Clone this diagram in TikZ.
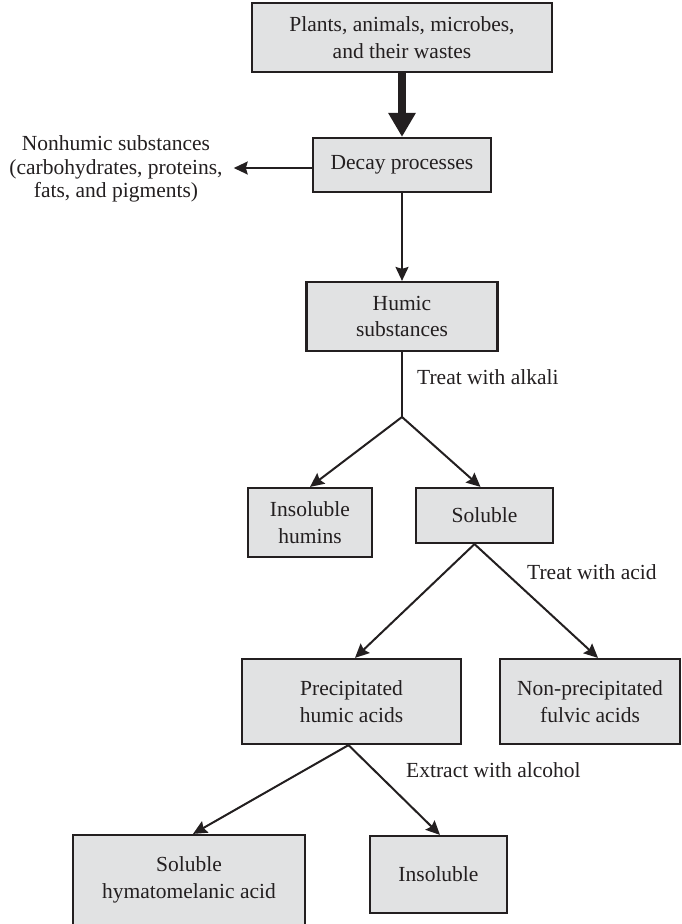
\documentclass[tikz,border=0pt]{standalone}
\usepackage{fontspec}
\setmainfont{Liberation Serif}
\usetikzlibrary{arrows.meta,calc}
\definecolor{ink}{HTML}{231F20}
\definecolor{boxfill}{HTML}{E1E2E3}
\tikzset{
  stage/.style={draw=ink, line width=2.2pt, fill=boxfill, text=ink, align=center,
    inner sep=0pt, font=\fontsize{21.5}{26.5}\selectfont},
  flow/.style={draw=ink, line width=2pt, -{Stealth[length=14pt,width=13pt,inset=2pt]}},
  bigflow/.style={draw=ink, line width=8pt, -{Triangle[length=24pt,width=26pt]}},
  note/.style={text=ink, inner sep=0pt, font=\fontsize{21.5}{23.5}\selectfont}
}
\begin{document}
\begin{tikzpicture}[x=1pt,y=-1pt]
\clip (0,0) rectangle (682,924);
\fill[white] (0,0) rectangle (682,924);

% boxes
\node[stage, minimum width=300pt, minimum height=69pt] (src) at (402,37.5)
  {Plants, animals, microbes,\\and their wastes};
\node[stage, minimum width=178pt, minimum height=54pt] (decay) at (402,165)
  {\raisebox{-3pt}{Decay processes}};
\node[stage, minimum width=191pt, minimum height=69pt] (humic) at (402,316.5)
  {Humic\\substances};
\node[stage, minimum width=124pt, minimum height=69pt] (humins) at (310,522.5)
  {Insoluble\\humins};
\node[stage, minimum width=137pt, minimum height=55pt] (sol) at (484.5,515.5)
  {\raisebox{-2pt}{Soluble}};
\node[stage, minimum width=219pt, minimum height=85pt] (prec) at (351.5,701.5)
  {Precipitated\\humic acids};
\node[stage, minimum width=180pt, minimum height=85pt] (fulvic) at (590,701.5)
  {Non-precipitated\\fulvic acids};
\node[stage, minimum width=232pt, minimum height=90pt] (hyma) at (189,880)
  {Soluble\\hymatomelanic acid};
\node[stage, minimum width=137pt, minimum height=77pt] (insol) at (438.5,874.5)
  {\raisebox{-2pt}{Insoluble}};

% side product
\node[note, align=center] (nonhumic) at (116,169)
  {Nonhumic substances\\(carbohydrates, proteins,\\fats, and pigments)};

% connectors
\draw[bigflow] (src.south) -- (src.south |- decay.north);
\coordinate (sidetip) at ($(nonhumic.east)+(11,0)$);
\draw[flow] ($(decay.west)+(0,3)$) coordinate (sidestart) -- (sidetip |- sidestart);
\draw[flow] (decay.south) -- (decay.south |- humic.north);

\coordinate (split) at (402,417);
\draw[draw=ink, line width=2pt] (humic.south) -- (split);
\draw[flow] (split) -- (humins.north);
\draw[flow] (split) -- ($(sol.north)+(-4,0)$);

\coordinate (solfork) at ($(sol.south)+(-10,0)$);
\draw[flow] (solfork) -- ($(prec.north)+(3.5,0)$);
\draw[flow] (solfork) -- ($(fulvic.north)+(8,0)$);

\coordinate (precfork) at ($(prec.south)+(-3,0)$);
\draw[flow] (precfork) -- ($(hyma.north)+(4,0)$);
\draw[flow] (precfork) -- ($(insol.north)+(1.5,0)$);

% step labels
\node[note, anchor=west] (alkali) at (417,377) {Treat with alkali};
\node[note, anchor=west] (acid) at (527,572) {Treat with acid};
\node[note, anchor=west] (alcohol) at (406,770) {Extract with alcohol};
\end{tikzpicture}
\end{document}
